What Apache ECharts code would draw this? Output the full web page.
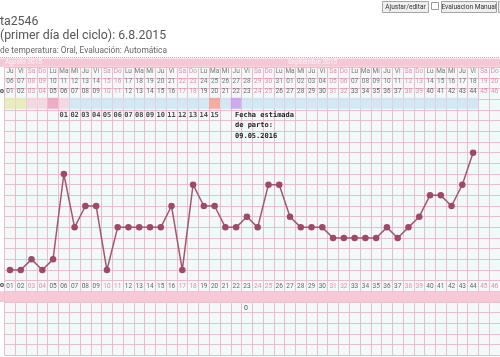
<!DOCTYPE html>
<html><head><meta charset="utf-8">
<script src="https://cdn.jsdelivr.net/npm/echarts@6/dist/echarts.min.js"></script>
<style>html,body{margin:0;padding:0;background:#fff}#c{width:500px;height:357px}</style>
</head><body><div id="c"></div>
<script>
// ---------- DATA ----------
const cycleDays = ['01','02','03','04','05','06','07','08','09','10','11','12','13','14','15','16','17','18','19','20','21','22','23','24','25','26','27','28','29','30','31','32','33','34','35','36','37','38','39','40','41','42','43','44','45','46'];
const weekdays = ['Ju','Vi','Sa','Do','Lu','Ma','Mi','Ju','Vi','Sa','Do','Lu','Ma','Mi','Ju','Vi','Sa','Do','Lu','Ma','Mi','Ju','Vi','Sa','Do','Lu','Ma','Mi','Ju','Vi','Sa','Do','Lu','Ma','Mi','Ju','Vi','Sa','Do','Lu','Ma','Mi','Ju','Vi','Sa','Do'];
const dates = ['06','07','08','09','10','11','12','13','14','15','16','17','18','19','20','21','22','23','24','25','26','27','28','29','30','31','01','02','03','04','05','06','07','08','09','10','11','12','13','14','15','16','17','18','19','20'];
const temperatures = [36.2,36.2,36.3,36.2,36.3,37.1,36.6,36.8,36.8,36.2,
  36.6,36.6,36.6,36.6,36.6,36.8,36.2,37.0,36.8,36.8,
  36.6,36.6,36.7,36.6,37.0,37.0,36.7,36.6,36.6,36.6,
  36.5,36.5,36.5,36.5,36.5,36.6,36.5,36.6,36.7,36.9,
  36.9,36.8,37.0,37.3];
const highDayLabels = ['','','','','','01','02','03','04','05','06','07','08','09','10','11','12','13','14','15','','','','','','','','','','','','','','','','','','','','','','','','','',''];
const cellKinds = ['fertile','fertile','period','period','periodStrong','period',
  'cycle','cycle','cycle','cycle','cycle','cycle','cycle','cycle','cycle','cycle','cycle','cycle','cycle','test','cycle','mark',
  'cycle','cycle','cycle','cycle','cycle','cycle','cycle','cycle','cycle','cycle','cycle','cycle','cycle','cycle','cycle','cycle','cycle','cycle','cycle','cycle','cycle','cycle','',''];
const monthNames = ['Agosto 2015','Septiembre 2015'];
const monthStartIdx = [0, 26];
const dueDateText = 'Fecha estimada\nde parto:\n09.05.2016';

// ---------- STYLE ----------
const GRID = '#ebbccc';
const PINK_TXT = '#e0729c';
const CELL_COLORS = {fertile:'#e5eab4', period:'#f3d3df', periodStrong:'#e8a2bc', cycle:'#cfe4f1', test:'#f2a090', mark:'#c89cf0'};
const isWeekend = i => weekdays[i] === 'Sa' || weekdays[i] === 'Do';
const SANS = 'Roboto, "Liberation Sans", sans-serif';
const MONO = '"DejaVu Sans Mono", "Liberation Mono", monospace';

function textRow(texts, y, axis, size, colorFn, family, weight) {
  return {
    type: 'scatter', xAxisIndex: axis, yAxisIndex: axis, symbolSize: 1, silent: true, z: 10,
    itemStyle: {color: 'rgba(0,0,0,0)'},
    data: texts.map((t, i) => ({value: [i, y], label: {color: colorFn(i)}})),
    label: {show: true, position: 'inside', formatter: p => texts[p.dataIndex],
      fontSize: size, fontFamily: family || SANS, fontWeight: weight || 'normal'}
  };
}

const chart = echarts.init(document.getElementById('c'), null, {renderer: 'canvas'});
const option = {
  animation: false,
  backgroundColor: '#fff',
  grid: [
    {left: 4.6, top: 67.3, width: 495.4, height: 288.1, show: true, backgroundColor: '#f3f8f8', borderWidth: 0},
    {left: 4.6, top: 58, width: 495.4, height: 62, show: false}
  ],
  xAxis: [
    {gridIndex: 0, type: 'category', data: cycleDays, boundaryGap: true,
      axisLine: {show: false}, axisTick: {show: false}, axisLabel: {show: false},
      splitLine: {show: true, interval: 0, lineStyle: {color: GRID, width: 1}}},
    {gridIndex: 1, type: 'category', data: cycleDays, show: false}
  ],
  yAxis: [
    {gridIndex: 0, type: 'value', min: 35.4, max: 38.1, interval: 0.1,
      axisLine: {show: false}, axisTick: {show: false}, axisLabel: {show: false},
      splitLine: {show: true, lineStyle: {color: GRID, width: 1}}},
    {gridIndex: 1, type: 'value', min: 0, max: 62, inverse: true, show: false, splitLine: {show: false}}
  ],
  series: [
    {
      type: 'custom', xAxisIndex: 1, yAxisIndex: 1, silent: true, z: 3,
      data: cellKinds.map((k, i) => k ? {value: [i, 0], itemStyle: {color: CELL_COLORS[k]}} : null).filter(Boolean),
      renderItem: (params, api) => {
        const x = api.value(0);
        const p0 = api.coord([x, 39.8]);
        const p1 = api.coord([x, 50.8]);
        const w = api.size([1, 0])[0];
        return {type: 'rect', shape: {x: p0[0] - w / 2, y: p0[1], width: w, height: p1[1] - p0[1]},
          style: {fill: api.visual('color'), opacity: 0.85}};
      }
    },
    textRow(weekdays, 13.5, 1, 6.5, i => isWeekend(i) ? PINK_TXT : '#555'),
    textRow(dates, 23.2, 1, 6.5, i => isWeekend(i) ? PINK_TXT : '#555'),
    textRow(cycleDays, 33.5, 1, 6.5, i => isWeekend(i) ? PINK_TXT : '#444'),
    textRow(highDayLabels, 57, 1, 7, () => '#222', MONO, 'bold'),
    {
      type: 'scatter', xAxisIndex: 1, yAxisIndex: 1, symbolSize: 1, silent: true, z: 10,
      itemStyle: {color: 'rgba(0,0,0,0)'},
      data: monthStartIdx.map((d, k) => ({value: [d, 4.3], label: {offset: [k === 0 ? -5 : -2, 0]}})),
      label: {show: true, position: 'inside', align: 'left', formatter: p => monthNames[p.dataIndex],
        color: '#fff', fontSize: 6.5, fontFamily: SANS}
    },
    textRow(cycleDays, 36.05, 0, 6.5, i => isWeekend(i) ? PINK_TXT : '#444'),
    {
      type: 'line', xAxisIndex: 0, yAxisIndex: 0, data: temperatures, z: 5,
      symbol: 'circle', symbolSize: 6.5, showSymbol: true,
      lineStyle: {color: '#a5566f', width: 1.5},
      itemStyle: {color: '#a04868'},
      markArea: {silent: true, itemStyle: {color: '#f7c9d7', opacity: 1},
        data: [[{yAxis: 35.9}, {yAxis: 36.0}]]}
    }
  ],
  graphic: [
    {type: 'text', x: 0, y: 21.5, style: {text: 'ta2546', font: '12.3px ' + SANS, fill: '#555', verticalAlign: 'middle'}},
    {type: 'text', x: 0, y: 35.5, style: {text: '(primer día del ciclo): 6.8.2015', font: '12.3px ' + SANS, fill: '#555', verticalAlign: 'middle'}},
    {type: 'text', x: 0, y: 50.5, style: {text: 'de temperatura: Oral, Evaluación: Automática', font: '8.4px ' + SANS, fill: '#666', verticalAlign: 'middle'}},
    {type: 'line', shape: {x1: 0, y1: 57.5, x2: 500, y2: 57.5}, style: {stroke: '#e3a2ba', lineWidth: 1, lineDash: [1, 1]}},
    {type: 'rect', shape: {x: 0, y: 58.5, width: 500, height: 8.3}, style: {fill: '#f6c8d6'}},
    {type: 'rect', shape: {x: 0, y: 291.3, width: 4.6, height: 10.7}, style: {fill: '#f7c9d7'}},
    // buttons
    {type: 'rect', shape: {x: 382.5, y: 1.5, width: 46, height: 11}, style: {fill: '#efefef', stroke: '#a5a5a5', lineWidth: 1}},
    {type: 'text', x: 405.5, y: 7, style: {text: 'Ajustar/editar', font: '6.6px ' + SANS, fill: '#333', align: 'center', verticalAlign: 'middle'}},
    {type: 'rect', shape: {x: 431.5, y: 2.5, width: 7, height: 7}, style: {fill: '#fff', stroke: '#999', lineWidth: 1}},
    {type: 'rect', shape: {x: 441.5, y: 1.5, width: 55, height: 11}, style: {fill: '#efefef', stroke: '#a5a5a5', lineWidth: 1}},
    {type: 'text', x: 469, y: 7, style: {text: 'Evaluacion Manual', font: '6.6px ' + SANS, fill: '#333', align: 'center', verticalAlign: 'middle'}},
    {type: 'rect', shape: {x: 498.5, y: 1.5, width: 10, height: 11}, style: {fill: '#efefef', stroke: '#a5a5a5', lineWidth: 1}},
    // left labels cut off
    {type: 'text', x: 0, y: 91.5, style: {text: 'o', font: 'bold 7px ' + SANS, fill: '#333', verticalAlign: 'middle'}},
    {type: 'text', x: 0, y: 285.3, style: {text: 'o', font: 'bold 7px ' + SANS, fill: '#333', verticalAlign: 'middle'}},
    // due date block
    {type: 'text', x: 235, y: 110, z: 20, style: {text: dueDateText, font: 'bold 7px ' + MONO, fill: '#222', lineHeight: 10.3}},
    {type: 'text', x: 246, y: 308, style: {text: '0', font: '7px ' + SANS, fill: '#555', align: 'center', verticalAlign: 'middle'}}
  ]
};
chart.setOption(option);
</script>
</body></html>
